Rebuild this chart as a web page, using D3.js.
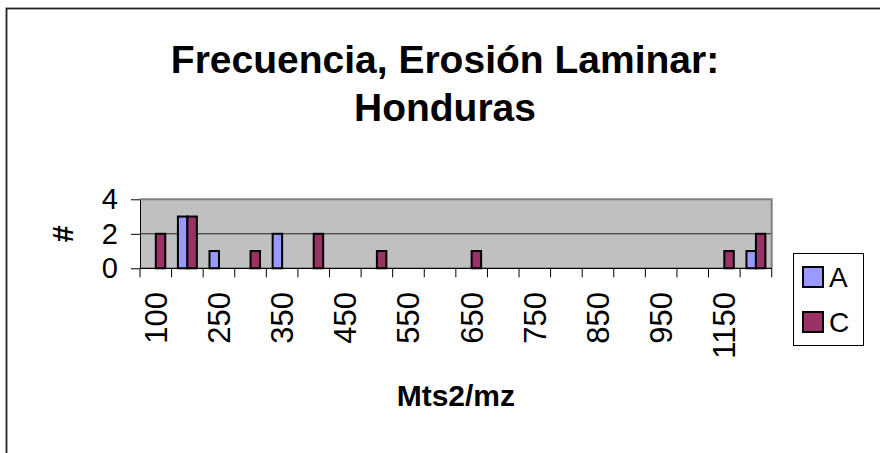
<!DOCTYPE html>
<html>
<head>
<meta charset="utf-8">
<script src="https://cdn.jsdelivr.net/npm/d3@7"></script>
<style>
  html, body { margin: 0; padding: 0; background: #fff; }
  svg { display: block; font-family: "Liberation Sans", Arial, sans-serif; }
</style>
</head>
<body>
<svg id="chart" width="880" height="453"></svg>
<script>
// Area classes (Mts2/mz) and frequency counts per series
const categories = ["100", "200", "250", "300", "350", "400", "450", "500", "550", "600",
                    "650", "700", "750", "800", "850", "900", "950", "1000", "1150", "1200"];
const seriesNames = ["A", "C"];
const valuesA = [0, 3, 1, 0, 2, 0, 0, 0, 0, 0, 0, 0, 0, 0, 0, 0, 0, 0, 0, 1];
const valuesC = [2, 3, 0, 1, 0, 2, 0, 1, 0, 0, 1, 0, 0, 0, 0, 0, 0, 0, 1, 2];
const yTicks = [0, 2, 4];
const seriesColors = { A: "#9999FF", C: "#993366" };

const titleLines = ["Frecuencia, Erosión Laminar:", "Honduras"];
const xTitle = "Mts2/mz";
const yTitle = "#";

const svg = d3.select("#chart");

// Outer chart frame
svg.append("rect")
  .attr("x", 6.5).attr("y", 8.5)
  .attr("width", 940).attr("height", 520)
  .attr("fill", "#fff").attr("stroke", "#222").attr("stroke-width", 1.8);

// Title
svg.append("g").selectAll("text").data(titleLines).join("text")
  .attr("x", 445).attr("y", (d, i) => 73 + i * 48)
  .attr("text-anchor", "middle")
  .attr("font-size", 39).attr("font-weight", "bold")
  .text(d => d);

const plot = { left: 140, right: 771.7, top: 199.3, bottom: 268.3 };

const x = d3.scaleBand()
  .domain(categories)
  .range([plot.left, plot.right])
  .paddingInner(0.4)
  .paddingOuter(0.2);

const xs = d3.scaleBand().domain(seriesNames).range([0, x.bandwidth()]);

const y = d3.scaleLinear().domain([0, 4]).range([plot.bottom, plot.top]);

// Plot area background
svg.append("rect")
  .attr("x", plot.left).attr("y", plot.top)
  .attr("width", plot.right - plot.left).attr("height", plot.bottom - plot.top)
  .attr("fill", "#C0C0C0");

// Gridlines
svg.append("g").selectAll("line").data(yTicks.filter(t => t > 0 && t < 4)).join("line")
  .attr("x1", plot.left).attr("x2", plot.right)
  .attr("y1", d => y(d)).attr("y2", d => y(d))
  .attr("stroke", "#222").attr("stroke-width", 1);

// Plot area top/right border
svg.append("path")
  .attr("d", `M${plot.left},${plot.top}H${plot.right}V${plot.bottom}`)
  .attr("fill", "none").attr("stroke", "#808080").attr("stroke-width", 2);

// Bars
const rows = categories.map((c, i) => ({ cat: c, A: valuesA[i], C: valuesC[i] }));
svg.append("g").selectAll("g").data(rows).join("g")
  .attr("transform", d => `translate(${x(d.cat)},0)`)
  .selectAll("rect")
  .data(d => seriesNames.map(s => ({ key: s, value: d[s] })).filter(v => v.value > 0))
  .join("rect")
  .attr("x", d => xs(d.key))
  .attr("y", d => y(d.value))
  .attr("width", xs.bandwidth())
  .attr("height", d => y(0) - y(d.value))
  .attr("fill", d => seriesColors[d.key])
  .attr("stroke", "#000").attr("stroke-width", 2);

// Y axis
const yAxis = svg.append("g")
  .attr("transform", `translate(${plot.left},0)`)
  .call(d3.axisLeft(y).tickValues(yTicks).tickFormat(d3.format("d"))
    .tickSize(9).tickPadding(13).tickSizeOuter(0));
yAxis.select(".domain").attr("stroke", "#000");
yAxis.selectAll(".tick line").attr("stroke", "#000");
yAxis.selectAll(".tick text")
  .attr("font-size", 29).attr("fill", "#000")
  .attr("font-family", "Liberation Sans, Arial, sans-serif");

// X axis line and category boundary ticks
const step = x.step();
const boundaries = d3.range(categories.length + 1).map(i => plot.left + i * step);
svg.append("line")
  .attr("x1", plot.left).attr("x2", plot.right)
  .attr("y1", plot.bottom).attr("y2", plot.bottom)
  .attr("stroke", "#000").attr("stroke-width", 1.2);
svg.append("g").selectAll("line").data(boundaries).join("line")
  .attr("x1", d => d).attr("x2", d => d)
  .attr("y1", plot.bottom).attr("y2", plot.bottom + 9)
  .attr("stroke", "#000");

// X tick labels: every second category, rotated
const labeled = categories.filter((c, i) => i % 2 === 0);
svg.append("g").selectAll("text").data(labeled).join("text")
  .attr("transform", d => `translate(${x(d) + x.bandwidth() / 2 + 11},292) rotate(-90)`)
  .attr("text-anchor", "end")
  .attr("font-size", 31)
  .text(d => d);

// Axis titles
svg.append("text")
  .attr("x", (plot.left + plot.right) / 2).attr("y", 406)
  .attr("text-anchor", "middle")
  .attr("font-size", 30).attr("font-weight", "bold")
  .text(xTitle);

svg.append("text")
  .attr("transform", `translate(73,${(plot.top + plot.bottom) / 2}) rotate(-90)`)
  .attr("text-anchor", "middle")
  .attr("font-size", 30).attr("font-weight", "bold")
  .text(yTitle);

// Legend
const legend = svg.append("g");
legend.append("rect")
  .attr("x", 793.5).attr("y", 253.5).attr("width", 70).attr("height", 92)
  .attr("fill", "#fff").attr("stroke", "#000").attr("stroke-width", 1);
const items = legend.selectAll("g.item").data(seriesNames).join("g")
  .attr("class", "item")
  .attr("transform", (d, i) => `translate(803,${267 + i * 45})`);
items.append("rect")
  .attr("width", 20).attr("height", 20)
  .attr("fill", d => seriesColors[d])
  .attr("stroke", "#000").attr("stroke-width", 2);
items.append("text")
  .attr("x", 26).attr("y", 20)
  .attr("font-size", 28)
  .text(d => d);
</script>
</body>
</html>
